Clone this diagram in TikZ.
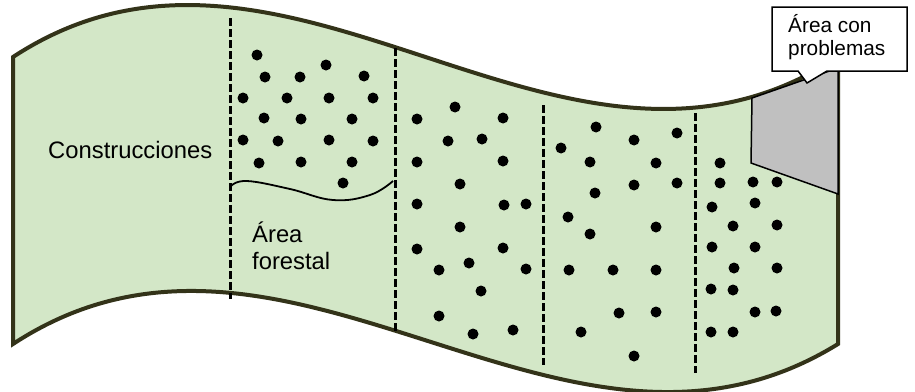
\documentclass[tikz,border=0pt]{standalone}
\usepackage{fontspec}
\setmainfont{Liberation Sans}
\usetikzlibrary{positioning}
\definecolor{fieldgreen}{HTML}{D3E7C7}
\definecolor{edgeolive}{HTML}{333319}
\definecolor{zonegray}{HTML}{C0C0C0}

\begin{document}
\begin{tikzpicture}[x=1pt,y=-1pt,
  banner/.style={fill=fieldgreen,draw=edgeolive,line width=4pt},
  divider/.style={dash pattern=on 8pt off 3pt,line width=3pt},
  treedot/.style={fill=black},
  areatext/.style={inner sep=0pt,align=left,font=\fontsize{23.8}{27}\selectfont},
  calltext/.style={inner sep=0pt,align=left,font=\fontsize{20.8}{23}\selectfont}]
  \useasboundingbox (0,0) rectangle (915,391);
  \draw[banner] (13,57) .. controls (288,-123) and (563,237) .. (838,57)
    -- (838,344) .. controls (563,514) and (288,164) .. (13,344) -- cycle;
  \draw[divider] (230,18) -- (230,299);
  \draw[divider] (395,48) -- (395,333);
  \draw[divider] (543,105) -- (543,365);
  \draw[divider] (695,113) -- (695,373);
  \draw[line width=1.8pt] plot[smooth,tension=0.7] coordinates {(231,186) (247,181) (290,189) (333,200) (370,195) (393,181)};
  \foreach \p in {(257,55),(265,77),(300,77),(326,65),(364,76),(243,98),(287,98),(329,98),(373,98),
    (264,118),(301,119),(352,119),(243,140),(278,141),(329,140),(373,141),(259,163),(301,162),(352,162),(343,183)}
    \fill[treedot] \p circle[radius=5.5pt];
  \foreach \p in {(455,107),(417,119),(503,118),(448,141),(482,139),(417,162),(503,161),(460,184),(417,204),
    (504,205),(526,204),(460,227),(417,249),(503,248),(469,263),(439,270),(526,269),(481,291),(439,316),(473,334),(513,330)}
    \fill[treedot] \p circle[radius=5.5pt];
  \foreach \p in {(596,127),(677,133),(634,140),(561,148),(590,162),(656,163),(634,185),(677,183),(595,193),
    (568,217),(656,227),(590,234),(569,270),(613,270),(656,270),(619,313),(656,312),(581,332),(634,356)}
    \fill[treedot] \p circle[radius=5.5pt];
  \foreach \p in {(720,163),(720,183),(753,182),(777,182),(712,207),(755,203),(733,226),(777,225),(712,247),
    (755,247),(734,268),(777,268),(711,289),(733,290),(755,312),(776,311),(711,332),(733,332)}
    \fill[treedot] \p circle[radius=5.5pt];
  \draw[fill=zonegray,line width=1.5pt] (752,98) -- (838,68) -- (838,194) -- (751,163) -- cycle;
  \draw[fill=white,line width=1.5pt] (772,7) -- (907,7) -- (907,71) -- (827,71) -- (807,83) -- (798,71) -- (772,71) -- cycle;
  \node[areatext,anchor=base west] (build) at (48,158) {Construcciones};
  \node[areatext,anchor=base west] (forest) at (252,269) {Área\\forestal};
  \node[calltext,anchor=base west] (problem) at (788,55) {Área con\\problemas};
\end{tikzpicture}
\end{document}
